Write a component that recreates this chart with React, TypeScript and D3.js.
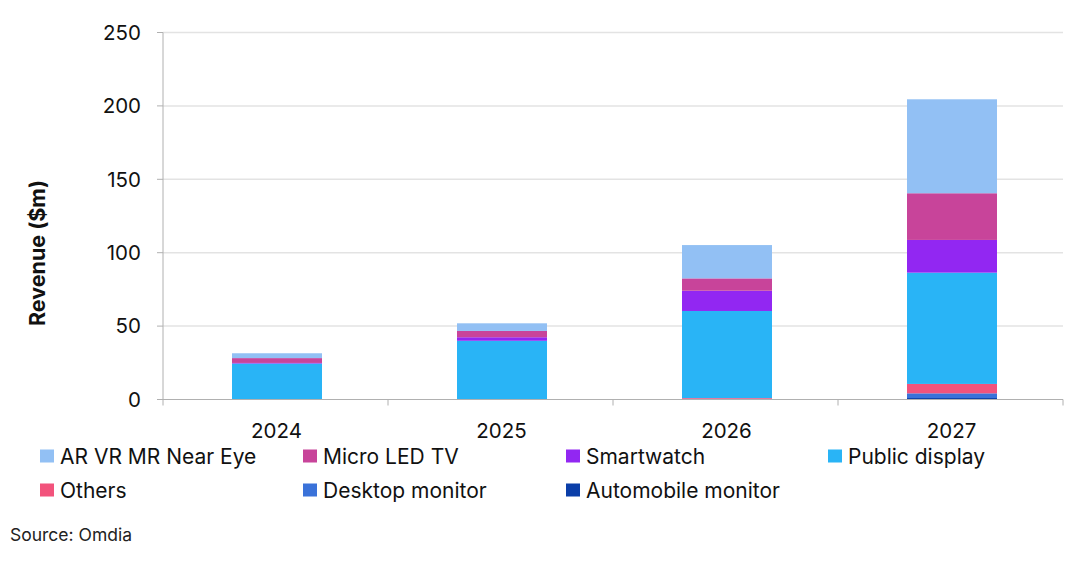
import React from "react";
import * as d3 from "d3";

const years = ["2024", "2025", "2026", "2027"];
const seriesNames = [
  "Automobile monitor",
  "Desktop monitor",
  "Others",
  "Public display",
  "Smartwatch",
  "Micro LED TV",
  "AR VR MR Near Eye",
];
const automobile = [0, 0, 0.2, 1];
const desktop = [0, 0, 0.3, 3.2];
const others = [0, 0, 0.5, 6.4];
const publicDisplay = [24.5, 40, 59.3, 75.8];
const smartwatch = [0.4, 2.4, 13.8, 22.3];
const microLed = [3.3, 4.3, 8.4, 31.8];
const arvr = [3.3, 5.2, 22.7, 64];
const seriesValues = [automobile, desktop, others, publicDisplay, smartwatch, microLed, arvr];
const colors = ["#0b3ea8", "#3a72d9", "#f2537c", "#29b4f6", "#9227f2", "#c8449a", "#92c0f4"];
const yTicks = [0, 50, 100, 150, 200, 250];
const legendOrder = [
  "AR VR MR Near Eye",
  "Micro LED TV",
  "Smartwatch",
  "Public display",
  "Others",
  "Desktop monitor",
  "Automobile monitor",
];

export default function App() {
  const W = 1080, H = 562;
  const left = 163, right = 1063, top = 32.5, bottom = 399.5;
  const x = d3.scaleBand().domain(years).range([left, right]).paddingInner(0.6).paddingOuter(0.3);
  const y = d3.scaleLinear().domain([0, 250]).range([bottom, top]);
  const table = years.map((yr, i) => {
    const o: any = { year: yr };
    seriesNames.forEach((s, k) => (o[s] = seriesValues[k][i]));
    return o;
  });
  const stack = d3.stack().keys(seriesNames)(table as any);
  const band = (right - left) / years.length;
  const font = "Inter, 'Open Sans', 'Liberation Sans', sans-serif";
  const legendX = [40, 303, 566, 828];
  return (
    <svg width={W} height={H} style={{ position: "absolute", left: 0, top: 0, background: "#fff" }} fontFamily={font}>
      {yTicks.map((t) => (
        <g key={t}>
          {t > 0 && <line x1={left} x2={right} y1={y(t)} y2={y(t)} stroke="#e3e3e3" strokeWidth={1.5} />}
          <line x1={left - 6} x2={left} y1={y(t)} y2={y(t)} stroke="#b0b0b0" />
          <text x={141} y={y(t)} dy="0.36em" textAnchor="end" fontSize={20.5} fill="#111">{t}</text>
        </g>
      ))}
      {stack.map((layer, k) => (
        <g key={layer.key} fill={colors[k]}>
          {layer.map((d, i) => (
            <rect key={i} x={(x(years[i]) as number) + 1.5} width={x.bandwidth()} y={y(d[1])} height={Math.max(0, y(d[0]) - y(d[1]))} />
          ))}
        </g>
      ))}
      <line x1={left} x2={left} y1={top} y2={bottom} stroke="#b0b0b0" />
      <line x1={left} x2={right} y1={bottom} y2={bottom} stroke="#b0b0b0" />
      {d3.range(years.length + 1).map((i) => (
        <line key={i} x1={left + i * band} x2={left + i * band} y1={bottom} y2={bottom + 6} stroke="#b0b0b0" />
      ))}
      {years.map((yr) => (
        <text key={yr} x={(x(yr) as number) + x.bandwidth() / 2 + 1} y={438} textAnchor="middle" fontSize={20.5} fill="#111">{yr}</text>
      ))}
      <text transform={`translate(45,253) rotate(-90)`} textAnchor="middle" fontSize={21.5} fontWeight="bold" fill="#111">Revenue ($m)</text>
      {legendOrder.map((name, i) => {
        const row = Math.floor(i / 4), col = i % 4;
        const lx = legendX[col], ly = 456 + row * 34;
        const ci = seriesNames.indexOf(name);
        return (
          <g key={name}>
            <rect x={lx} y={ly - 6.5} width={14} height={13} fill={colors[ci]} />
            <text x={lx + 20} y={ly} dy="0.36em" fontSize={21} fill="#111">{name}</text>
          </g>
        );
      })}
      <text x={10} y={541} fontSize={17.5} fill="#222">Source: Omdia</text>
    </svg>
  );
}
